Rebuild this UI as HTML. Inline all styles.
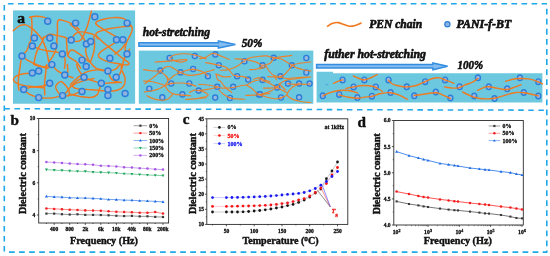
<!DOCTYPE html>
<html><head><meta charset="utf-8"><title>figure</title>
<style>
html,body{margin:0;padding:0;background:#fff;}
body{width:550px;height:256px;overflow:hidden;}
svg{display:block;font-family:"Liberation Serif",serif;filter:blur(0.35px);}
</style></head><body>
<svg width="550" height="256" viewBox="0 0 550 256">
<rect width="550" height="256" fill="#fff"/>
<rect x="13.0" y="10.4" width="122.1" height="93.35" fill="#6cc8de"/>
<rect x="138.8" y="50.6" width="174.5" height="53.15" fill="#6cc8de"/>
<path d="M316.6 71.7H333V73.3H542.4V102.4H316.6Z" fill="#6cc8de"/>
<g transform="translate(0.4 0.4)">
<path d="M12.8 30.3C14.1 29.3 17.1 26.3 19.5 25.2C21.9 24.1 23.1 24.0 25.3 24.5C27.5 25.0 28.8 26.1 31.0 27.7C33.2 29.3 34.6 30.6 36.7 32.8C38.8 35.0 40.1 36.2 41.8 39.2C43.5 42.2 44.5 45.4 45.6 48.7C46.7 52.0 47.0 54.0 47.5 56.4C48.0 58.8 48.1 60.5 48.2 61.5" fill="none" stroke="#f0781f" stroke-width="1.45" stroke-linecap="round"/>
<path d="M29.1 16.9C30.3 16.7 32.8 15.9 35.5 15.9C38.2 15.9 40.7 16.1 43.1 16.7C45.5 17.3 47.2 18.4 48.2 18.8" fill="none" stroke="#f0781f" stroke-width="1.45" stroke-linecap="round"/>
<path d="M31.1 16.6C31.2 18.6 31.7 22.7 31.6 27.1C31.5 31.5 30.9 36.9 30.4 39.8C29.9 42.7 29.8 40.5 29.1 42.4C28.4 44.3 27.8 47.6 26.5 50.0C25.2 52.4 23.1 53.3 22.0 55.0C20.9 56.7 21.3 56.5 20.8 58.9C20.3 61.3 19.9 65.0 19.5 67.8C19.1 70.6 18.9 70.6 18.6 73.4C18.3 76.2 17.8 79.7 17.8 82.8C17.8 85.9 18.4 88.5 18.6 89.8" fill="none" stroke="#f0781f" stroke-width="1.45" stroke-linecap="round"/>
<path d="M78.7 29.0C77.5 28.0 75.1 25.5 72.4 23.9C69.7 22.3 67.5 21.4 64.7 20.7C61.9 20.0 59.1 18.2 57.7 20.1C56.3 22.0 57.3 27.2 57.1 30.9C56.9 34.6 56.6 37.6 56.5 39.8C56.4 42.0 56.7 40.5 56.5 42.4C56.3 44.3 56.1 47.3 55.2 50.0C54.3 52.7 53.2 54.3 52.0 56.4C50.8 58.5 49.4 60.0 48.8 60.8" fill="none" stroke="#f0781f" stroke-width="1.45" stroke-linecap="round"/>
<path d="M41.8 39.2C43.0 38.2 45.8 35.0 48.2 34.1C50.6 33.2 51.6 34.2 54.5 34.7C57.4 35.2 60.6 35.9 63.5 36.6C66.4 37.3 67.6 39.1 69.8 38.5C72.0 37.9 73.0 34.8 74.9 33.5C76.8 32.2 77.3 31.6 80.0 31.5C82.7 31.4 86.2 32.1 89.1 32.8C92.0 33.5 93.1 33.8 95.5 35.4C97.9 37.0 99.1 38.8 101.8 41.1C104.5 43.4 106.6 45.1 109.5 47.5C112.4 49.9 114.4 51.6 117.1 53.8C119.8 56.0 121.3 57.2 123.5 58.9C125.7 60.6 128.0 61.6 128.5 62.7C129.0 63.8 127.9 64.5 126.0 64.6C124.1 64.7 121.8 64.0 118.4 63.4C115.0 62.8 111.6 62.5 108.2 61.5C104.8 60.5 102.4 59.5 100.5 58.3C98.6 57.1 98.0 56.4 98.0 55.1C98.0 53.8 98.6 53.0 100.5 51.3C102.4 49.6 105.5 47.9 108.2 46.2C110.9 44.5 113.3 43.1 114.5 42.4" fill="none" stroke="#f0781f" stroke-width="1.45" stroke-linecap="round"/>
<path d="M91.0 10.8C90.6 12.2 90.0 15.1 89.1 18.2C88.2 21.3 87.7 23.7 86.5 27.1C85.3 30.5 83.9 33.6 82.7 36.0C81.5 38.4 81.4 38.8 80.2 39.8C79.0 40.8 78.1 41.1 76.4 41.1C74.7 41.1 72.3 40.0 71.3 39.8" fill="none" stroke="#f0781f" stroke-width="1.45" stroke-linecap="round"/>
<path d="M117.1 37.3C115.7 36.4 112.2 34.4 109.5 32.8C106.8 31.2 105.4 30.4 103.1 29.0C100.8 27.6 98.8 26.5 97.4 25.2C96.0 23.9 94.4 23.2 95.5 22.0C96.6 20.8 99.7 19.7 103.1 18.8C106.5 17.9 109.4 17.3 113.3 17.2C117.2 17.1 121.0 17.3 123.5 18.2C126.0 19.1 125.2 20.6 126.6 22.0C128.0 23.4 130.1 24.2 131.1 25.8C132.1 27.4 132.2 28.1 131.7 30.3C131.2 32.5 129.6 35.0 128.5 37.3C127.4 39.6 126.7 40.2 126.0 42.4C125.3 44.6 124.6 46.6 124.7 48.7C124.8 50.8 126.8 51.7 126.6 53.6C126.4 55.5 124.3 56.7 123.5 58.9C122.7 61.1 122.6 63.6 122.2 65.3C121.8 67.0 121.6 67.5 121.5 68.0" fill="none" stroke="#f0781f" stroke-width="1.45" stroke-linecap="round"/>
<path d="M131.1 25.8C129.2 25.9 125.3 26.0 120.9 26.5C116.5 27.0 112.3 27.6 108.2 28.4C104.1 29.2 101.7 29.9 99.3 30.9C96.9 31.9 95.9 32.1 95.5 33.5C95.1 34.9 97.0 37.5 97.4 38.5" fill="none" stroke="#f0781f" stroke-width="1.45" stroke-linecap="round"/>
<path d="M70.0 23.9C71.2 25.0 74.0 27.1 76.4 29.6C78.8 32.1 80.9 34.6 82.7 37.3C84.5 40.0 85.4 40.9 85.9 43.6C86.4 46.3 84.9 48.4 85.3 51.3C85.7 54.2 86.6 56.5 87.8 58.9C89.0 61.3 90.1 62.3 91.6 64.0C93.1 65.7 94.3 66.9 95.5 67.8C96.7 68.7 95.8 68.2 98.1 68.7C100.4 69.2 105.7 70.2 107.5 70.6" fill="none" stroke="#f0781f" stroke-width="1.45" stroke-linecap="round"/>
<path d="M93.5 36.0C93.6 37.4 94.2 40.7 94.2 43.6C94.2 46.5 94.1 48.4 93.5 51.3C92.9 54.2 91.8 57.0 91.0 58.9C90.2 60.8 90.7 62.0 89.1 61.5C87.5 61.0 85.1 58.2 82.7 56.4C80.3 54.6 78.4 53.2 76.4 51.9C74.4 50.6 73.4 49.8 72.0 49.6C70.6 49.4 70.1 49.8 69.2 50.8C68.3 51.8 67.7 54.3 67.3 55.1" fill="none" stroke="#f0781f" stroke-width="1.45" stroke-linecap="round"/>
<path d="M66.0 38.5C66.1 40.2 66.4 44.3 66.6 47.5C66.8 50.7 66.4 53.0 67.3 55.1C68.2 57.2 69.4 57.1 71.1 58.3C72.8 59.5 74.5 59.7 76.2 61.5C77.9 63.3 79.4 66.6 80.2 67.8" fill="none" stroke="#f0781f" stroke-width="1.45" stroke-linecap="round"/>
<path d="M32.0 45.5C33.4 46.1 36.2 47.7 39.3 48.7C42.4 49.7 44.8 50.0 48.2 50.6C51.6 51.2 54.5 51.3 57.1 51.9C59.7 52.5 60.5 52.3 61.9 53.6C63.3 54.9 64.3 56.2 64.7 58.9C65.1 61.6 64.2 66.1 64.1 67.8" fill="none" stroke="#f0781f" stroke-width="1.45" stroke-linecap="round"/>
<path d="M43.1 36.5C42.9 37.4 42.9 38.8 41.8 41.1C40.7 43.4 38.7 45.8 37.4 48.7C36.1 51.6 35.5 53.5 34.8 56.4C34.1 59.3 33.7 62.6 33.5 64.0" fill="none" stroke="#f0781f" stroke-width="1.45" stroke-linecap="round"/>
<path d="M21.5 55.7C22.4 56.4 24.3 58.2 26.5 59.5C28.7 60.8 30.2 61.5 32.9 62.7C35.6 63.9 37.8 64.9 40.5 65.9C43.2 66.9 44.8 68.0 46.9 67.8C49.0 67.6 49.5 64.3 51.4 64.8C53.3 65.3 54.4 68.4 56.9 70.3C59.4 72.2 61.4 73.3 64.4 74.6C67.4 75.9 71.0 76.8 72.5 77.3" fill="none" stroke="#f0781f" stroke-width="1.45" stroke-linecap="round"/>
<path d="M114.5 53.8C115.7 52.8 119.0 50.6 120.9 48.7C122.8 46.8 124.0 44.6 124.7 43.6" fill="none" stroke="#f0781f" stroke-width="1.45" stroke-linecap="round"/>
<path d="M129.2 48.7L126.6 53.6" fill="none" stroke="#f0781f" stroke-width="1.45" stroke-linecap="round"/>
<path d="M31.9 72.6C29.5 72.9 23.0 73.0 19.4 74.2C15.8 75.4 13.4 77.0 13.1 78.8C12.8 80.6 14.8 82.2 17.8 83.5C20.8 84.8 24.3 85.4 28.8 85.9C33.3 86.4 37.4 86.5 41.3 85.9C45.2 85.3 47.9 83.4 49.4 82.8" fill="none" stroke="#f0781f" stroke-width="1.45" stroke-linecap="round"/>
<path d="M23.3 89.0C24.3 89.9 25.9 92.2 28.8 93.7C31.7 95.2 34.3 96.4 38.4 97.1C42.5 97.8 46.1 97.9 50.6 97.6C55.1 97.3 59.0 95.7 62.3 95.3C65.6 94.9 66.6 96.2 67.8 95.3C69.0 94.4 69.2 92.7 68.6 90.6C68.0 88.5 66.3 86.1 64.7 84.3C63.1 82.5 61.8 80.9 60.0 81.2C58.2 81.5 55.9 84.1 55.3 85.9C54.7 87.7 55.6 88.8 56.9 90.6C58.2 92.4 59.9 95.9 62.3 95.3C64.7 94.7 66.9 90.1 69.4 87.4C71.9 84.7 73.6 82.8 75.6 81.2C77.6 79.6 78.1 79.1 80.0 78.8C81.9 78.5 83.1 79.7 85.6 79.6C88.1 79.5 91.9 78.4 93.4 78.1" fill="none" stroke="#f0781f" stroke-width="1.45" stroke-linecap="round"/>
<path d="M23.3 89.0C24.9 88.6 28.2 87.0 31.9 86.7C35.6 86.4 40.7 87.3 42.8 87.4" fill="none" stroke="#f0781f" stroke-width="1.45" stroke-linecap="round"/>
<path d="M46.3 64.0C46.1 65.8 45.6 69.5 45.2 73.4C44.8 77.3 44.3 80.3 44.1 84.3C43.9 88.3 44.3 92.6 44.4 94.5" fill="none" stroke="#f0781f" stroke-width="1.45" stroke-linecap="round"/>
<path d="M33.5 64.0C35.0 64.4 37.9 66.1 41.3 66.3C44.7 66.5 49.5 65.1 51.4 64.8" fill="none" stroke="#f0781f" stroke-width="1.45" stroke-linecap="round"/>
<path d="M67.0 64.0L67.5 71.8" fill="none" stroke="#f0781f" stroke-width="1.45" stroke-linecap="round"/>
<path d="M67.8 95.3C69.0 95.0 71.9 94.5 74.1 93.7C76.3 92.9 78.5 91.8 79.5 91.3" fill="none" stroke="#f0781f" stroke-width="1.45" stroke-linecap="round"/>
<path d="M76.2 64.0C76.5 64.9 76.4 66.3 77.8 68.7C79.2 71.1 81.4 74.7 83.8 76.8C86.2 78.9 87.1 78.5 90.3 79.6C93.5 80.7 97.0 82.3 100.9 82.8C104.8 83.3 106.8 82.6 110.6 82.4C114.4 82.2 118.9 82.1 120.8 82.0" fill="none" stroke="#f0781f" stroke-width="1.45" stroke-linecap="round"/>
<path d="M70.0 84.3C71.2 83.1 73.3 80.5 76.3 78.1C79.3 75.7 81.7 73.4 85.6 71.8C89.5 70.2 92.4 69.7 96.6 69.5C100.8 69.3 103.9 70.8 107.5 70.6C111.1 70.4 112.9 70.0 115.3 68.7C117.7 67.4 119.0 63.7 120.0 64.0C121.0 64.3 121.1 68.2 120.8 70.3C120.5 72.4 118.9 74.0 118.4 74.9" fill="none" stroke="#f0781f" stroke-width="1.45" stroke-linecap="round"/>
<path d="M107.5 70.6C108.1 72.0 109.1 76.1 110.6 78.1C112.1 80.1 113.4 80.5 115.3 81.2C117.2 81.9 119.8 81.8 120.8 82.0" fill="none" stroke="#f0781f" stroke-width="1.45" stroke-linecap="round"/>
<path d="M121.6 70.3C122.2 71.8 124.4 75.1 124.7 78.1C125.0 81.1 124.6 83.7 123.1 85.9C121.6 88.1 119.9 88.8 116.9 89.8C113.9 90.8 111.1 90.9 107.5 90.9C103.9 90.9 102.3 90.2 98.1 89.8C93.9 89.4 89.7 89.3 85.6 89.0C81.5 88.7 78.8 88.8 76.3 88.2C73.8 87.6 72.3 86.9 72.3 85.9C72.3 84.9 73.8 84.0 76.3 82.8C78.8 81.6 83.8 80.2 85.6 79.6" fill="none" stroke="#f0781f" stroke-width="1.45" stroke-linecap="round"/>
<path d="M100.9 82.8C100.5 84.0 99.7 86.8 98.9 89.0C98.1 91.2 98.2 93.0 96.6 94.5C95.0 96.0 93.6 96.8 90.3 97.1C87.0 97.4 83.3 96.6 79.4 96.0C75.5 95.4 71.8 94.1 70.0 93.7" fill="none" stroke="#f0781f" stroke-width="1.45" stroke-linecap="round"/>
<circle cx="47.3" cy="20.8" r="3.0" fill="#8eb3e3" stroke="#2c7fd9" stroke-width="1.45"/>
<circle cx="75.2" cy="22.7" r="3.0" fill="#8eb3e3" stroke="#2c7fd9" stroke-width="1.45"/>
<circle cx="94.4" cy="16.4" r="3.0" fill="#8eb3e3" stroke="#2c7fd9" stroke-width="1.45"/>
<circle cx="126.7" cy="22.7" r="3.0" fill="#8eb3e3" stroke="#2c7fd9" stroke-width="1.45"/>
<circle cx="34.0" cy="37.5" r="3.0" fill="#8eb3e3" stroke="#2c7fd9" stroke-width="1.45"/>
<circle cx="49.4" cy="37.5" r="3.0" fill="#8eb3e3" stroke="#2c7fd9" stroke-width="1.45"/>
<circle cx="70.8" cy="39.5" r="3.0" fill="#8eb3e3" stroke="#2c7fd9" stroke-width="1.45"/>
<circle cx="86.0" cy="43.5" r="3.0" fill="#8eb3e3" stroke="#2c7fd9" stroke-width="1.45"/>
<circle cx="90.3" cy="41.0" r="3.0" fill="#8eb3e3" stroke="#2c7fd9" stroke-width="1.45"/>
<circle cx="116.1" cy="39.4" r="3.0" fill="#8eb3e3" stroke="#2c7fd9" stroke-width="1.45"/>
<circle cx="122.5" cy="39.4" r="3.0" fill="#8eb3e3" stroke="#2c7fd9" stroke-width="1.45"/>
<circle cx="32.0" cy="45.5" r="3.0" fill="#8eb3e3" stroke="#2c7fd9" stroke-width="1.45"/>
<circle cx="53.5" cy="45.5" r="3.0" fill="#8eb3e3" stroke="#2c7fd9" stroke-width="1.45"/>
<circle cx="21.6" cy="55.6" r="3.0" fill="#8eb3e3" stroke="#2c7fd9" stroke-width="1.45"/>
<circle cx="61.9" cy="53.5" r="3.0" fill="#8eb3e3" stroke="#2c7fd9" stroke-width="1.45"/>
<circle cx="126.6" cy="53.5" r="3.0" fill="#8eb3e3" stroke="#2c7fd9" stroke-width="1.45"/>
<circle cx="109.5" cy="57.9" r="3.0" fill="#8eb3e3" stroke="#2c7fd9" stroke-width="1.45"/>
<circle cx="81.6" cy="59.7" r="3.0" fill="#8eb3e3" stroke="#2c7fd9" stroke-width="1.45"/>
<circle cx="51.5" cy="64.2" r="3.0" fill="#8eb3e3" stroke="#2c7fd9" stroke-width="1.45"/>
<circle cx="85.8" cy="66.0" r="3.0" fill="#8eb3e3" stroke="#2c7fd9" stroke-width="1.45"/>
<circle cx="31.9" cy="72.5" r="3.0" fill="#8eb3e3" stroke="#2c7fd9" stroke-width="1.45"/>
<circle cx="38.3" cy="70.6" r="3.0" fill="#8eb3e3" stroke="#2c7fd9" stroke-width="1.45"/>
<circle cx="64.4" cy="74.5" r="3.0" fill="#8eb3e3" stroke="#2c7fd9" stroke-width="1.45"/>
<circle cx="107.5" cy="70.6" r="3.0" fill="#8eb3e3" stroke="#2c7fd9" stroke-width="1.45"/>
<circle cx="83.6" cy="76.8" r="3.0" fill="#8eb3e3" stroke="#2c7fd9" stroke-width="1.45"/>
<circle cx="115.8" cy="76.8" r="3.0" fill="#8eb3e3" stroke="#2c7fd9" stroke-width="1.45"/>
<circle cx="49.3" cy="82.9" r="3.0" fill="#8eb3e3" stroke="#2c7fd9" stroke-width="1.45"/>
<circle cx="100.9" cy="82.8" r="3.0" fill="#8eb3e3" stroke="#2c7fd9" stroke-width="1.45"/>
<circle cx="23.3" cy="89.0" r="3.0" fill="#8eb3e3" stroke="#2c7fd9" stroke-width="1.45"/>
<circle cx="81.6" cy="91.1" r="3.0" fill="#8eb3e3" stroke="#2c7fd9" stroke-width="1.45"/>
<circle cx="107.5" cy="89.0" r="3.0" fill="#8eb3e3" stroke="#2c7fd9" stroke-width="1.45"/>
<circle cx="107.5" cy="95.1" r="3.0" fill="#8eb3e3" stroke="#2c7fd9" stroke-width="1.45"/>
<circle cx="124.7" cy="93.0" r="3.0" fill="#8eb3e3" stroke="#2c7fd9" stroke-width="1.45"/>
<circle cx="62.2" cy="95.2" r="3.0" fill="#8eb3e3" stroke="#2c7fd9" stroke-width="1.45"/>
<circle cx="38.3" cy="97.2" r="3.0" fill="#8eb3e3" stroke="#2c7fd9" stroke-width="1.45"/>
</g>
<ellipse cx="169.6" cy="58.0" rx="2.5" ry="2.6" fill="#9bb8e4" stroke="#2c7fd9" stroke-width="1.4"/>
<ellipse cx="194.8" cy="56.0" rx="2.5" ry="2.6" fill="#9bb8e4" stroke="#2c7fd9" stroke-width="1.4"/>
<ellipse cx="215.3" cy="54.4" rx="2.5" ry="2.6" fill="#9bb8e4" stroke="#2c7fd9" stroke-width="1.4"/>
<ellipse cx="244.5" cy="61.3" rx="2.5" ry="2.6" fill="#9bb8e4" stroke="#2c7fd9" stroke-width="1.4"/>
<ellipse cx="218.8" cy="65.2" rx="2.5" ry="2.6" fill="#9bb8e4" stroke="#2c7fd9" stroke-width="1.4"/>
<ellipse cx="262.5" cy="65.4" rx="2.5" ry="2.6" fill="#9bb8e4" stroke="#2c7fd9" stroke-width="1.4"/>
<ellipse cx="160.3" cy="70.6" rx="2.5" ry="2.6" fill="#9bb8e4" stroke="#2c7fd9" stroke-width="1.4"/>
<ellipse cx="180.5" cy="72.4" rx="2.5" ry="2.6" fill="#9bb8e4" stroke="#2c7fd9" stroke-width="1.4"/>
<ellipse cx="193.1" cy="69.0" rx="2.5" ry="2.6" fill="#9bb8e4" stroke="#2c7fd9" stroke-width="1.4"/>
<ellipse cx="207.9" cy="76.2" rx="2.5" ry="2.6" fill="#9bb8e4" stroke="#2c7fd9" stroke-width="1.4"/>
<ellipse cx="237.1" cy="76.2" rx="2.5" ry="2.6" fill="#9bb8e4" stroke="#2c7fd9" stroke-width="1.4"/>
<ellipse cx="248.2" cy="79.6" rx="2.5" ry="2.6" fill="#9bb8e4" stroke="#2c7fd9" stroke-width="1.4"/>
<ellipse cx="262.5" cy="79.9" rx="2.5" ry="2.6" fill="#9bb8e4" stroke="#2c7fd9" stroke-width="1.4"/>
<ellipse cx="171.2" cy="83.5" rx="2.5" ry="2.6" fill="#9bb8e4" stroke="#2c7fd9" stroke-width="1.4"/>
<ellipse cx="189.3" cy="83.5" rx="2.5" ry="2.6" fill="#9bb8e4" stroke="#2c7fd9" stroke-width="1.4"/>
<ellipse cx="149.3" cy="88.7" rx="2.5" ry="2.6" fill="#9bb8e4" stroke="#2c7fd9" stroke-width="1.4"/>
<ellipse cx="217.2" cy="86.8" rx="2.5" ry="2.6" fill="#9bb8e4" stroke="#2c7fd9" stroke-width="1.4"/>
<ellipse cx="233.2" cy="86.8" rx="2.5" ry="2.6" fill="#9bb8e4" stroke="#2c7fd9" stroke-width="1.4"/>
<ellipse cx="198.7" cy="90.6" rx="2.5" ry="2.6" fill="#9bb8e4" stroke="#2c7fd9" stroke-width="1.4"/>
<ellipse cx="182.4" cy="94.4" rx="2.5" ry="2.6" fill="#9bb8e4" stroke="#2c7fd9" stroke-width="1.4"/>
<ellipse cx="162.3" cy="97.4" rx="2.5" ry="2.6" fill="#9bb8e4" stroke="#2c7fd9" stroke-width="1.4"/>
<ellipse cx="215.2" cy="97.6" rx="2.5" ry="2.6" fill="#9bb8e4" stroke="#2c7fd9" stroke-width="1.4"/>
<ellipse cx="230.0" cy="98.0" rx="2.5" ry="2.6" fill="#9bb8e4" stroke="#2c7fd9" stroke-width="1.4"/>
<ellipse cx="258.9" cy="94.4" rx="2.5" ry="2.6" fill="#9bb8e4" stroke="#2c7fd9" stroke-width="1.4"/>
<ellipse cx="273.7" cy="57.8" rx="2.5" ry="2.6" fill="#9bb8e4" stroke="#2c7fd9" stroke-width="1.4"/>
<ellipse cx="306.3" cy="58.0" rx="2.5" ry="2.6" fill="#9bb8e4" stroke="#2c7fd9" stroke-width="1.4"/>
<ellipse cx="291.8" cy="65.3" rx="2.5" ry="2.6" fill="#9bb8e4" stroke="#2c7fd9" stroke-width="1.4"/>
<ellipse cx="306.3" cy="72.5" rx="2.5" ry="2.6" fill="#9bb8e4" stroke="#2c7fd9" stroke-width="1.4"/>
<ellipse cx="280.4" cy="76.3" rx="2.5" ry="2.6" fill="#9bb8e4" stroke="#2c7fd9" stroke-width="1.4"/>
<ellipse cx="288.0" cy="83.6" rx="2.5" ry="2.6" fill="#9bb8e4" stroke="#2c7fd9" stroke-width="1.4"/>
<ellipse cx="299.1" cy="83.6" rx="2.5" ry="2.6" fill="#9bb8e4" stroke="#2c7fd9" stroke-width="1.4"/>
<ellipse cx="309.6" cy="83.6" rx="2.5" ry="2.6" fill="#9bb8e4" stroke="#2c7fd9" stroke-width="1.4"/>
<ellipse cx="277.2" cy="87.4" rx="2.5" ry="2.6" fill="#9bb8e4" stroke="#2c7fd9" stroke-width="1.4"/>
<ellipse cx="260.0" cy="94.4" rx="2.5" ry="2.6" fill="#9bb8e4" stroke="#2c7fd9" stroke-width="1.4"/>
<ellipse cx="281.0" cy="97.5" rx="2.5" ry="2.6" fill="#9bb8e4" stroke="#2c7fd9" stroke-width="1.4"/>
<ellipse cx="299.1" cy="97.3" rx="2.5" ry="2.6" fill="#9bb8e4" stroke="#2c7fd9" stroke-width="1.4"/>
<path d="M169.7 57.9C170.6 57.3 171.4 55.8 174.2 55.0C177.0 54.2 180.5 53.7 184.4 53.7C188.3 53.7 190.7 54.0 194.8 55.0C198.9 56.0 203.9 58.1 206.0 58.8" fill="none" stroke="#e9812d" stroke-width="1.15" stroke-linecap="round"/>
<path d="M155.1 62.0C157.0 61.9 160.9 61.8 165.3 61.4C169.7 61.0 174.0 60.5 178.0 60.1C182.0 59.7 184.9 59.3 186.3 59.5C187.7 59.7 186.9 60.4 185.6 60.9C184.3 61.4 182.0 62.3 179.3 62.0C176.6 61.7 173.1 60.0 171.6 59.5" fill="none" stroke="#e9812d" stroke-width="1.15" stroke-linecap="round"/>
<path d="M143.6 69.6C145.1 69.8 148.1 70.5 151.3 70.7C154.5 70.9 157.5 71.4 160.2 70.7C162.9 70.0 163.4 67.8 165.3 67.1C167.2 66.4 168.5 66.3 170.4 66.8C172.3 67.3 173.6 68.6 175.5 69.6C177.4 70.6 178.3 72.1 180.5 72.2C182.7 72.3 184.5 70.8 186.9 70.3C189.3 69.8 190.4 69.2 193.3 69.4C196.2 69.6 199.4 70.2 202.2 71.5C205.0 72.8 206.8 75.1 207.9 76.0" fill="none" stroke="#e9812d" stroke-width="1.15" stroke-linecap="round"/>
<path d="M160.2 71.5C159.2 72.4 157.0 74.4 155.1 76.0C153.2 77.6 151.9 78.4 150.0 79.8C148.1 81.2 145.9 82.9 144.9 83.6" fill="none" stroke="#e9812d" stroke-width="1.15" stroke-linecap="round"/>
<path d="M160.6 71.5C161.5 72.2 163.7 73.8 165.3 75.4C166.9 77.0 168.4 79.0 169.1 79.8" fill="none" stroke="#e9812d" stroke-width="1.15" stroke-linecap="round"/>
<path d="M169.1 79.8C170.1 79.0 172.1 76.7 174.2 75.4C176.3 74.1 178.9 73.3 180.0 72.8" fill="none" stroke="#e9812d" stroke-width="1.15" stroke-linecap="round"/>
<path d="M181.0 72.8C182.6 73.3 186.0 75.2 189.5 75.4C193.0 75.6 196.2 74.8 199.6 74.1C203.0 73.4 204.9 72.4 207.6 71.5C210.3 70.6 212.8 70.0 214.0 69.6" fill="none" stroke="#e9812d" stroke-width="1.15" stroke-linecap="round"/>
<path d="M200.0 58.8C201.2 58.4 204.2 57.9 206.4 56.9C208.6 55.9 209.8 54.3 211.5 53.7C213.2 53.1 213.4 53.2 215.3 53.7C217.2 54.2 218.9 55.2 221.6 56.3C224.3 57.4 227.8 58.9 229.3 59.5" fill="none" stroke="#e9812d" stroke-width="1.15" stroke-linecap="round"/>
<path d="M205.7 62.6C207.0 62.8 210.2 63.4 212.7 63.9C215.2 64.4 216.7 64.6 219.1 65.2C221.5 65.8 223.6 66.1 225.5 67.1C227.4 68.1 227.9 68.9 229.3 70.3C230.7 71.7 231.6 73.6 233.1 74.7C234.6 75.8 236.4 75.8 237.2 76.0" fill="none" stroke="#e9812d" stroke-width="1.15" stroke-linecap="round"/>
<path d="M220.4 70.3C221.8 70.2 225.1 70.2 228.0 69.6C230.9 69.0 232.9 68.4 235.6 67.1C238.3 65.8 240.3 63.7 242.0 62.6C243.7 61.5 244.0 61.6 244.5 61.4" fill="none" stroke="#e9812d" stroke-width="1.15" stroke-linecap="round"/>
<path d="M235.0 58.8C236.8 58.9 241.5 59.1 244.5 59.5C247.5 59.9 248.5 60.1 250.9 60.7C253.3 61.3 255.1 61.7 257.3 62.6C259.5 63.5 260.1 65.1 262.6 65.2C265.1 65.3 268.1 64.6 270.2 63.3C272.3 62.0 272.8 59.2 273.4 58.2" fill="none" stroke="#e9812d" stroke-width="1.15" stroke-linecap="round"/>
<path d="M245.2 60.1C246.3 59.6 248.1 58.2 250.9 57.5C253.7 56.8 256.9 56.6 259.8 56.3C262.7 56.0 263.8 55.7 266.4 55.9C269.0 56.1 270.7 57.3 273.4 57.5C276.1 57.7 276.9 57.3 280.4 56.9C283.9 56.5 289.6 55.7 291.8 55.4" fill="none" stroke="#e9812d" stroke-width="1.15" stroke-linecap="round"/>
<path d="M249.6 69.6C251.1 69.5 254.8 69.7 257.3 69.0C259.8 68.3 261.6 66.4 262.6 65.8" fill="none" stroke="#e9812d" stroke-width="1.15" stroke-linecap="round"/>
<path d="M216.5 74.1C217.7 74.6 220.2 76.1 222.9 76.6C225.6 77.1 229.1 76.6 230.5 76.6" fill="none" stroke="#e9812d" stroke-width="1.15" stroke-linecap="round"/>
<path d="M215.9 74.1C216.3 75.2 216.9 78.5 217.8 79.8C218.7 81.1 218.9 79.6 220.4 81.1C221.9 82.6 223.3 85.3 225.5 87.5C227.7 89.7 230.6 91.5 231.8 92.5" fill="none" stroke="#e9812d" stroke-width="1.15" stroke-linecap="round"/>
<path d="M237.2 76.6C238.4 76.6 241.2 76.2 243.3 76.6C245.4 77.0 247.4 78.1 248.4 78.5" fill="none" stroke="#e9812d" stroke-width="1.15" stroke-linecap="round"/>
<path d="M253.5 79.2C254.4 79.0 256.8 78.0 258.5 77.9C260.2 77.8 261.7 78.4 262.4 78.5" fill="none" stroke="#e9812d" stroke-width="1.15" stroke-linecap="round"/>
<path d="M273.4 58.2C274.7 58.3 277.9 58.1 280.4 58.8C282.9 59.5 284.5 60.8 286.7 62.0C288.9 63.2 289.6 64.0 291.8 65.2C294.0 66.4 295.5 67.4 298.2 68.4C300.9 69.4 303.4 69.8 305.8 70.3C308.2 70.8 309.9 70.8 310.9 70.9" fill="none" stroke="#e9812d" stroke-width="1.15" stroke-linecap="round"/>
<path d="M291.8 65.2C293.3 64.8 295.9 63.9 299.5 63.3C303.1 62.7 308.7 62.2 310.9 62.0" fill="none" stroke="#e9812d" stroke-width="1.15" stroke-linecap="round"/>
<path d="M291.8 65.8C291.1 66.8 289.4 69.2 288.0 70.9C286.6 72.6 285.6 73.7 284.2 74.7C282.8 75.7 281.1 76.0 280.4 76.3" fill="none" stroke="#e9812d" stroke-width="1.15" stroke-linecap="round"/>
<path d="M266.4 66.5C267.0 67.5 268.1 69.8 269.5 71.5C270.9 73.2 271.9 74.4 274.0 75.4C276.1 76.4 278.0 76.0 280.4 76.6C282.8 77.2 283.3 78.3 286.7 78.5C290.1 78.7 293.6 77.8 298.2 77.5C302.8 77.2 308.5 77.1 310.9 77.0" fill="none" stroke="#e9812d" stroke-width="1.15" stroke-linecap="round"/>
<path d="M274.0 75.4L276.5 79.8" fill="none" stroke="#e9812d" stroke-width="1.15" stroke-linecap="round"/>
<path d="M260.0 69.0L266.4 66.5" fill="none" stroke="#e9812d" stroke-width="1.15" stroke-linecap="round"/>
<path d="M143.6 81.1C145.3 81.2 149.1 81.1 152.5 81.7C155.9 82.3 159.1 83.6 161.5 84.3C163.9 85.0 164.6 85.3 165.3 85.5" fill="none" stroke="#e9812d" stroke-width="1.15" stroke-linecap="round"/>
<path d="M144.3 91.9C145.3 91.8 146.9 91.8 149.4 91.3C151.9 90.8 154.6 90.5 157.6 89.4C160.6 88.3 162.7 86.6 165.3 85.5C167.9 84.4 168.7 83.9 171.4 83.4C174.1 82.9 175.9 82.9 179.3 83.0C182.7 83.1 186.4 83.3 189.5 83.9C192.6 84.5 194.6 85.8 195.8 86.2" fill="none" stroke="#e9812d" stroke-width="1.15" stroke-linecap="round"/>
<path d="M166.5 76.0C166.7 77.0 168.0 79.3 167.8 81.1C167.6 82.9 165.3 83.8 165.3 85.5C165.3 87.2 166.4 88.4 167.8 90.0C169.2 91.6 170.1 92.8 172.9 93.8C175.7 94.8 179.1 94.7 182.5 95.1C185.9 95.5 189.1 95.6 190.7 95.7" fill="none" stroke="#e9812d" stroke-width="1.15" stroke-linecap="round"/>
<path d="M198.4 84.3C200.4 84.5 205.3 84.7 208.9 85.2C212.5 85.7 214.5 86.2 217.2 86.8C219.9 87.4 219.8 88.0 222.9 88.1C226.0 88.2 229.7 88.0 233.3 87.5C236.9 87.0 239.4 86.0 242.0 85.5C244.6 85.0 245.4 85.5 247.1 84.9C248.8 84.3 249.2 83.2 250.9 82.4C252.6 81.6 253.8 81.0 256.0 80.5C258.2 80.0 259.9 79.6 262.6 79.8C265.3 80.0 268.6 81.3 270.0 81.7" fill="none" stroke="#e9812d" stroke-width="1.15" stroke-linecap="round"/>
<path d="M189.5 92.5C190.4 92.0 192.8 90.4 194.5 90.0C196.2 89.6 196.1 90.7 198.6 90.6C201.1 90.5 204.1 90.0 207.6 89.4C211.1 88.8 215.4 87.9 217.2 87.5" fill="none" stroke="#e9812d" stroke-width="1.15" stroke-linecap="round"/>
<path d="M146.8 95.7C148.1 96.3 150.9 98.0 153.8 98.9C156.7 99.8 159.6 100.2 162.3 100.2C165.0 100.2 166.0 99.8 167.8 98.9C169.6 98.0 170.6 96.7 171.6 95.7C172.6 94.7 172.7 94.2 172.9 93.8" fill="none" stroke="#e9812d" stroke-width="1.15" stroke-linecap="round"/>
<path d="M185.6 99.5C187.3 99.4 190.6 99.3 194.5 98.9C198.4 98.5 203.8 97.8 206.0 97.6" fill="none" stroke="#e9812d" stroke-width="1.15" stroke-linecap="round"/>
<path d="M247.1 85.5C248.1 86.1 250.5 87.4 252.2 88.7C253.9 90.0 254.7 91.4 256.0 92.5C257.3 93.6 256.9 93.6 258.8 94.5C260.7 95.4 263.1 96.2 266.2 97.0C269.3 97.8 272.5 98.5 275.3 98.7C278.1 98.9 279.9 98.1 281.0 97.9" fill="none" stroke="#e9812d" stroke-width="1.15" stroke-linecap="round"/>
<path d="M245.8 95.3C247.3 95.3 251.0 95.2 253.5 95.1C256.0 95.0 255.7 95.2 258.8 94.8C261.9 94.4 267.9 93.5 270.0 93.2" fill="none" stroke="#e9812d" stroke-width="1.15" stroke-linecap="round"/>
<path d="M200.0 90.6C201.0 91.0 203.5 91.6 205.1 92.5C206.7 93.4 208.3 94.2 208.3 95.1C208.3 96.0 206.7 96.5 205.1 97.0C203.5 97.5 201.0 97.5 200.0 97.6" fill="none" stroke="#e9812d" stroke-width="1.15" stroke-linecap="round"/>
<path d="M219.1 90.0C219.8 90.7 220.8 92.3 222.9 93.8C225.0 95.3 227.2 96.9 229.9 97.9C232.6 98.9 234.1 98.7 236.9 98.9C239.7 99.1 243.1 99.1 244.5 99.2" fill="none" stroke="#e9812d" stroke-width="1.15" stroke-linecap="round"/>
<path d="M263.6 88.1C264.9 88.1 267.6 88.2 270.2 88.1C272.8 88.0 275.9 87.9 277.2 87.8" fill="none" stroke="#e9812d" stroke-width="1.15" stroke-linecap="round"/>
<path d="M267.6 76.6L280.4 77.3" fill="none" stroke="#e9812d" stroke-width="1.15" stroke-linecap="round"/>
<path d="M262.5 80.5C263.7 81.0 266.1 81.7 268.9 83.0C271.7 84.3 274.5 86.1 277.2 87.5C279.9 88.9 281.0 89.5 282.9 90.6C284.8 91.7 286.5 92.7 287.4 93.2" fill="none" stroke="#e9812d" stroke-width="1.15" stroke-linecap="round"/>
<path d="M307.1 77.3C305.4 77.5 301.8 78.0 298.2 78.5C294.6 79.0 291.2 79.1 288.0 79.8C284.8 80.5 283.7 81.1 281.6 82.4C279.5 83.7 279.4 85.1 277.2 86.8C275.0 88.5 273.5 89.8 270.2 91.3C266.9 92.8 261.9 93.9 260.0 94.5" fill="none" stroke="#e9812d" stroke-width="1.15" stroke-linecap="round"/>
<path d="M288.0 83.6C289.0 83.7 291.0 84.2 293.1 84.3C295.2 84.4 297.0 83.9 299.2 83.9C301.4 83.9 302.5 84.3 304.5 84.3C306.5 84.3 308.9 84.0 309.9 83.9" fill="none" stroke="#e9812d" stroke-width="1.15" stroke-linecap="round"/>
<path d="M299.2 84.3C298.0 84.8 295.1 85.5 293.1 86.8C291.1 88.1 289.8 89.7 288.6 91.3C287.4 92.9 287.8 94.0 286.7 95.1C285.6 96.2 284.0 96.5 282.9 97.0C281.8 97.5 281.4 97.7 281.0 97.9" fill="none" stroke="#e9812d" stroke-width="1.15" stroke-linecap="round"/>
<path d="M279.1 83.6L285.5 90.0" fill="none" stroke="#e9812d" stroke-width="1.15" stroke-linecap="round"/>
<path d="M286.7 95.1C287.7 95.8 289.1 97.7 291.8 98.9C294.5 100.1 297.1 100.8 300.7 101.5C304.3 102.2 309.0 102.3 310.9 102.5" fill="none" stroke="#e9812d" stroke-width="1.15" stroke-linecap="round"/>
<ellipse cx="342.6" cy="79.9" rx="2.5" ry="2.8" fill="#9bb8e4" stroke="#2c7fd9" stroke-width="1.4"/>
<ellipse cx="364.4" cy="79.9" rx="2.5" ry="2.8" fill="#9bb8e4" stroke="#2c7fd9" stroke-width="1.4"/>
<ellipse cx="388.5" cy="79.9" rx="2.5" ry="2.8" fill="#9bb8e4" stroke="#2c7fd9" stroke-width="1.4"/>
<ellipse cx="353.6" cy="86.9" rx="2.5" ry="2.8" fill="#9bb8e4" stroke="#2c7fd9" stroke-width="1.4"/>
<ellipse cx="375.8" cy="86.9" rx="2.5" ry="2.8" fill="#9bb8e4" stroke="#2c7fd9" stroke-width="1.4"/>
<ellipse cx="322.8" cy="95.8" rx="2.5" ry="2.8" fill="#9bb8e4" stroke="#2c7fd9" stroke-width="1.4"/>
<ellipse cx="339.2" cy="94.4" rx="2.5" ry="2.8" fill="#9bb8e4" stroke="#2c7fd9" stroke-width="1.4"/>
<ellipse cx="357.4" cy="97.6" rx="2.5" ry="2.8" fill="#9bb8e4" stroke="#2c7fd9" stroke-width="1.4"/>
<ellipse cx="371.9" cy="96.2" rx="2.5" ry="2.8" fill="#9bb8e4" stroke="#2c7fd9" stroke-width="1.4"/>
<ellipse cx="390.6" cy="92.6" rx="2.5" ry="2.8" fill="#9bb8e4" stroke="#2c7fd9" stroke-width="1.4"/>
<ellipse cx="406.7" cy="86.8" rx="2.5" ry="2.8" fill="#9bb8e4" stroke="#2c7fd9" stroke-width="1.4"/>
<ellipse cx="425.2" cy="81.7" rx="2.5" ry="2.8" fill="#9bb8e4" stroke="#2c7fd9" stroke-width="1.4"/>
<ellipse cx="445.1" cy="79.9" rx="2.5" ry="2.8" fill="#9bb8e4" stroke="#2c7fd9" stroke-width="1.4"/>
<ellipse cx="459.6" cy="86.8" rx="2.5" ry="2.8" fill="#9bb8e4" stroke="#2c7fd9" stroke-width="1.4"/>
<ellipse cx="414.3" cy="95.8" rx="2.5" ry="2.8" fill="#9bb8e4" stroke="#2c7fd9" stroke-width="1.4"/>
<ellipse cx="435.8" cy="92.0" rx="2.5" ry="2.8" fill="#9bb8e4" stroke="#2c7fd9" stroke-width="1.4"/>
<ellipse cx="450.4" cy="98.0" rx="2.5" ry="2.8" fill="#9bb8e4" stroke="#2c7fd9" stroke-width="1.4"/>
<ellipse cx="477.9" cy="77.8" rx="2.5" ry="2.8" fill="#9bb8e4" stroke="#2c7fd9" stroke-width="1.4"/>
<ellipse cx="519.9" cy="77.8" rx="2.5" ry="2.8" fill="#9bb8e4" stroke="#2c7fd9" stroke-width="1.4"/>
<ellipse cx="538.3" cy="81.7" rx="2.5" ry="2.8" fill="#9bb8e4" stroke="#2c7fd9" stroke-width="1.4"/>
<ellipse cx="488.8" cy="86.8" rx="2.5" ry="2.8" fill="#9bb8e4" stroke="#2c7fd9" stroke-width="1.4"/>
<ellipse cx="507.2" cy="88.8" rx="2.5" ry="2.8" fill="#9bb8e4" stroke="#2c7fd9" stroke-width="1.4"/>
<ellipse cx="523.8" cy="92.5" rx="2.5" ry="2.8" fill="#9bb8e4" stroke="#2c7fd9" stroke-width="1.4"/>
<ellipse cx="474.2" cy="96.0" rx="2.5" ry="2.8" fill="#9bb8e4" stroke="#2c7fd9" stroke-width="1.4"/>
<ellipse cx="494.5" cy="98.5" rx="2.5" ry="2.8" fill="#9bb8e4" stroke="#2c7fd9" stroke-width="1.4"/>
<ellipse cx="538.3" cy="96.0" rx="2.5" ry="2.8" fill="#9bb8e4" stroke="#2c7fd9" stroke-width="1.4"/>
<path d="M333.6 83.3C334.6 82.9 337.0 81.7 338.7 81.1C340.4 80.5 342.0 80.1 342.8 79.9" fill="none" stroke="#ee7a22" stroke-width="1.4" stroke-linecap="round"/>
<path d="M353.3 76.0C354.4 76.5 357.0 77.8 359.1 78.5C361.2 79.2 362.1 80.1 364.5 79.9C366.9 79.7 369.1 78.5 371.5 77.5C373.9 76.5 376.2 75.1 377.3 74.5" fill="none" stroke="#ee7a22" stroke-width="1.4" stroke-linecap="round"/>
<path d="M346.0 88.4C347.4 88.1 350.3 87.5 353.6 86.9C356.9 86.3 360.0 85.6 363.5 85.5C367.0 85.4 369.9 85.8 372.2 86.2C374.5 86.6 373.9 86.4 375.8 87.4C377.7 88.4 381.1 90.6 382.4 91.3" fill="none" stroke="#ee7a22" stroke-width="1.4" stroke-linecap="round"/>
<path d="M323.0 95.9C324.3 95.3 327.0 93.7 330.0 92.7C333.0 91.7 335.4 90.9 339.0 90.5C342.6 90.1 345.4 90.0 348.9 90.5C352.4 91.0 355.9 92.5 357.6 93.0" fill="none" stroke="#ee7a22" stroke-width="1.4" stroke-linecap="round"/>
<path d="M339.0 94.9C340.6 95.3 344.0 96.5 347.5 97.1C351.0 97.7 354.0 98.3 357.3 98.3C360.6 98.3 362.1 97.5 364.9 97.1C367.7 96.7 368.9 97.1 371.9 96.4C374.9 95.7 377.4 94.2 380.9 93.5C384.4 92.8 387.0 92.4 390.4 92.7C393.8 93.0 395.5 93.6 398.7 94.9C401.9 96.2 405.8 98.5 407.5 99.3" fill="none" stroke="#ee7a22" stroke-width="1.4" stroke-linecap="round"/>
<path d="M388.5 80.3C389.3 81.0 390.8 83.0 392.5 84.0C394.2 85.0 394.6 84.9 397.3 85.5C400.0 86.1 403.1 86.9 406.7 86.9C410.3 86.9 412.7 86.5 416.2 85.5C419.7 84.5 421.6 83.2 424.9 81.8C428.2 80.4 430.8 78.9 433.6 78.2C436.4 77.5 437.3 77.6 439.5 77.9C441.7 78.2 442.2 78.9 445.0 79.9C447.8 80.9 452.3 82.7 454.0 83.3" fill="none" stroke="#ee7a22" stroke-width="1.4" stroke-linecap="round"/>
<path d="M444.5 86.9C446.0 87.1 449.6 88.0 452.5 88.1C455.4 88.2 457.0 88.2 459.5 87.6C462.0 87.0 463.3 85.7 465.6 84.7C467.9 83.7 469.5 83.7 471.8 82.5C474.1 81.3 476.7 79.3 477.9 78.5" fill="none" stroke="#ee7a22" stroke-width="1.4" stroke-linecap="round"/>
<path d="M414.0 95.6C415.8 95.3 419.4 94.8 423.5 94.2C427.6 93.6 432.2 92.6 435.8 92.7C439.4 92.8 439.6 93.8 442.4 94.9C445.2 96.0 448.9 97.8 450.4 98.5" fill="none" stroke="#ee7a22" stroke-width="1.4" stroke-linecap="round"/>
<path d="M462.7 92.0C464.1 92.7 467.9 94.6 470.0 95.6C472.1 96.6 471.4 96.5 474.0 97.1C476.6 97.7 479.6 98.6 483.5 98.8C487.4 99.0 490.5 98.9 494.4 98.3C498.3 97.7 500.1 96.7 503.8 95.6C507.5 94.5 510.2 93.3 514.0 92.7C517.8 92.1 520.4 92.4 523.7 92.7C527.0 93.0 528.7 93.6 531.5 94.2C534.3 94.8 537.0 95.6 538.3 95.9" fill="none" stroke="#ee7a22" stroke-width="1.4" stroke-linecap="round"/>
<path d="M505.6 81.4C506.9 81.0 509.8 79.9 512.5 79.3C515.2 78.7 516.8 78.6 519.8 78.5C522.8 78.4 525.0 78.3 528.5 78.9C532.0 79.5 535.7 80.8 538.3 81.8C540.9 82.8 541.6 83.6 542.4 84.0" fill="none" stroke="#ee7a22" stroke-width="1.4" stroke-linecap="round"/>
<path d="M477.6 90.5C478.7 89.9 481.4 88.3 483.5 87.6C485.6 86.9 486.0 86.5 488.8 86.7C491.6 86.9 494.5 87.9 498.0 88.4C501.5 88.9 503.7 89.8 507.0 89.5C510.3 89.2 512.8 87.8 515.5 86.9C518.2 86.0 520.0 85.1 521.0 84.7" fill="none" stroke="#ee7a22" stroke-width="1.4" stroke-linecap="round"/>
<path d="M325.6 84.7H328.2" stroke="#3b8fd8" stroke-width="0.7"/>
<path d="M138.9 42.7H218.4V41.0L235.4 44.5L218.4 48.0V46.2H138.9Z" fill="#86bdf0" stroke="#338de0" stroke-width="1.5" stroke-linejoin="miter"/>
<path d="M316.6 64.5H432.9V62.9L447.6 66.3L432.9 69.7V68.1H316.6Z" fill="#86bdf0" stroke="#338de0" stroke-width="1.5" stroke-linejoin="miter"/>
<path d="M327.5 26.2C328.4 25.7 330.0 24.3 332.0 23.6C334.0 22.9 335.7 22.4 338.0 22.6C340.3 22.8 341.7 23.9 344.0 24.6C346.3 25.3 347.7 26.2 350.0 26.3C352.3 26.4 353.9 25.8 356.0 25.2C358.1 24.6 360.1 23.5 361.0 23.1" fill="none" stroke="#f0781f" stroke-width="1.6" stroke-linecap="round"/>
<circle cx="447.4" cy="24.2" r="2.6" fill="#8eb3e3" stroke="#2c7fd9" stroke-width="1.2"/>
<text x="369.2" y="28.0" font-size="11.50" font-weight="bold" font-style="italic" fill="#111" text-anchor="start" textLength="53.0" lengthAdjust="spacingAndGlyphs" stroke="#111" stroke-width="0.60" stroke-linejoin="round">PEN chain</text>
<text x="456.6" y="28.0" font-size="11.50" font-weight="bold" font-style="italic" fill="#111" text-anchor="start" textLength="54.7" lengthAdjust="spacingAndGlyphs" stroke="#111" stroke-width="0.60" stroke-linejoin="round">PANI-<tspan font-style="italic">f</tspan>-BT</text>
<text x="142.7" y="35.5" font-size="12.00" font-weight="bold" font-style="italic" fill="#111" text-anchor="start" textLength="67.3" lengthAdjust="spacingAndGlyphs" stroke="#111" stroke-width="0.60" stroke-linejoin="round">hot-stretching</text>
<text x="241.7" y="46.7" font-size="12.00" font-weight="bold" font-style="italic" fill="#111" text-anchor="start" textLength="20.7" lengthAdjust="spacingAndGlyphs" stroke="#111" stroke-width="0.60" stroke-linejoin="round">50%</text>
<text x="324.2" y="58.0" font-size="12.00" font-weight="bold" font-style="italic" fill="#111" text-anchor="start" textLength="101.8" lengthAdjust="spacingAndGlyphs" stroke="#111" stroke-width="0.60" stroke-linejoin="round">futher hot-stretching</text>
<text x="457.5" y="69.0" font-size="12.00" font-weight="bold" font-style="italic" fill="#111" text-anchor="start" textLength="25.5" lengthAdjust="spacingAndGlyphs" stroke="#111" stroke-width="0.60" stroke-linejoin="round">100%</text>
<text x="17.3" y="23.0" font-size="15.60" font-weight="bold" font-style="normal" fill="#111" text-anchor="start" stroke="#111" stroke-width="0.45" stroke-linejoin="round">a</text>
<text x="10.6" y="125.3" font-size="15.20" font-weight="bold" font-style="normal" fill="#111" text-anchor="start" stroke="#111" stroke-width="0.45" stroke-linejoin="round">b</text>
<text x="182.8" y="124.0" font-size="15.20" font-weight="bold" font-style="normal" fill="#111" text-anchor="start" stroke="#111" stroke-width="0.45" stroke-linejoin="round">c</text>
<text x="357.6" y="127.0" font-size="15.20" font-weight="bold" font-style="normal" fill="#111" text-anchor="start" stroke="#111" stroke-width="0.45" stroke-linejoin="round">d</text>
<rect x="38.7" y="118.5" width="129.9" height="104.5" fill="#fff" stroke="#2b2b2b" stroke-width="0.9"/>
<path d="M38.7 118.5h-1.9M38.7 150.7h-1.9M38.7 182.8h-1.9M38.7 215.0h-1.9" stroke="#2b2b2b" stroke-width="0.8"/>
<path d="M38.7 134.6h-1.0M38.7 166.7h-1.0M38.7 198.9h-1.0" stroke="#2b2b2b" stroke-width="0.8"/>
<path d="M54.2 223.0v1.9M69.7 223.0v1.9M85.3 223.0v1.9M100.8 223.0v1.9M116.4 223.0v1.9M131.9 223.0v1.9M147.4 223.0v1.9M163.0 223.0v1.9" stroke="#2b2b2b" stroke-width="0.8"/>
<path d="M46.4 223.0v1.0M61.9 223.0v1.0M77.5 223.0v1.0M93.0 223.0v1.0M108.6 223.0v1.0M124.1 223.0v1.0M139.7 223.0v1.0M155.2 223.0v1.0" stroke="#2b2b2b" stroke-width="0.8"/>
<text x="35.2" y="120.4" font-size="5.50" font-weight="bold" font-style="normal" fill="#111" text-anchor="end" stroke="#111" stroke-width="0.30" stroke-linejoin="round">10</text>
<text x="35.2" y="152.6" font-size="5.50" font-weight="bold" font-style="normal" fill="#111" text-anchor="end" stroke="#111" stroke-width="0.30" stroke-linejoin="round">8</text>
<text x="35.2" y="184.7" font-size="5.50" font-weight="bold" font-style="normal" fill="#111" text-anchor="end" stroke="#111" stroke-width="0.30" stroke-linejoin="round">6</text>
<text x="35.2" y="216.9" font-size="5.50" font-weight="bold" font-style="normal" fill="#111" text-anchor="end" stroke="#111" stroke-width="0.30" stroke-linejoin="round">4</text>
<text x="54.2" y="230.9" font-size="5.50" font-weight="bold" font-style="normal" fill="#111" text-anchor="middle" stroke="#111" stroke-width="0.30" stroke-linejoin="round">400</text>
<text x="69.7" y="230.9" font-size="5.50" font-weight="bold" font-style="normal" fill="#111" text-anchor="middle" stroke="#111" stroke-width="0.30" stroke-linejoin="round">800</text>
<text x="85.3" y="230.9" font-size="5.50" font-weight="bold" font-style="normal" fill="#111" text-anchor="middle" stroke="#111" stroke-width="0.30" stroke-linejoin="round">2k</text>
<text x="100.8" y="230.9" font-size="5.50" font-weight="bold" font-style="normal" fill="#111" text-anchor="middle" stroke="#111" stroke-width="0.30" stroke-linejoin="round">6k</text>
<text x="116.4" y="230.9" font-size="5.50" font-weight="bold" font-style="normal" fill="#111" text-anchor="middle" stroke="#111" stroke-width="0.30" stroke-linejoin="round">10k</text>
<text x="131.9" y="230.9" font-size="5.50" font-weight="bold" font-style="normal" fill="#111" text-anchor="middle" stroke="#111" stroke-width="0.30" stroke-linejoin="round">40k</text>
<text x="147.4" y="230.9" font-size="5.50" font-weight="bold" font-style="normal" fill="#111" text-anchor="middle" stroke="#111" stroke-width="0.30" stroke-linejoin="round">80k</text>
<text x="163.0" y="230.9" font-size="5.50" font-weight="bold" font-style="normal" fill="#111" text-anchor="middle" stroke="#111" stroke-width="0.30" stroke-linejoin="round">200k</text>
<polyline points="46.4,162.0 54.2,162.5 61.9,162.9 69.7,163.6 77.5,164.1 85.3,164.3 93.0,164.8 100.8,165.7 108.6,165.9 116.4,166.4 124.1,167.3 131.9,167.6 139.7,168.2 147.4,168.6 155.2,169.2 163.0,169.6" fill="none" stroke="#c18cf0" stroke-width="0.80"/>
<circle cx="46.40" cy="162.00" r="1.26" fill="#a557e6"/><circle cx="54.17" cy="162.53" r="1.26" fill="#a557e6"/><circle cx="61.95" cy="162.95" r="1.26" fill="#a557e6"/><circle cx="69.72" cy="163.57" r="1.26" fill="#a557e6"/><circle cx="77.49" cy="164.09" r="1.26" fill="#a557e6"/><circle cx="85.26" cy="164.32" r="1.26" fill="#a557e6"/><circle cx="93.04" cy="164.80" r="1.26" fill="#a557e6"/><circle cx="100.81" cy="165.72" r="1.26" fill="#a557e6"/><circle cx="108.58" cy="165.93" r="1.26" fill="#a557e6"/><circle cx="116.36" cy="166.43" r="1.26" fill="#a557e6"/><circle cx="124.13" cy="167.31" r="1.26" fill="#a557e6"/><circle cx="131.90" cy="167.56" r="1.26" fill="#a557e6"/><circle cx="139.68" cy="168.25" r="1.26" fill="#a557e6"/><circle cx="147.45" cy="168.57" r="1.26" fill="#a557e6"/><circle cx="155.22" cy="169.16" r="1.26" fill="#a557e6"/><circle cx="163.00" cy="169.60" r="1.26" fill="#a557e6"/>
<polyline points="46.4,169.6 54.2,170.2 61.9,170.4 69.7,170.9 77.5,171.3 85.3,171.4 93.0,172.1 100.8,172.4 108.6,172.7 116.4,173.0 124.1,173.8 131.9,174.0 139.7,174.5 147.4,175.0 155.2,175.3 163.0,175.6" fill="none" stroke="#5fc48e" stroke-width="0.80"/>
<path d="M46.40 171.16L47.90 168.52L44.90 168.52Z" fill="#1fa35c"/><path d="M54.17 171.74L55.67 169.10L52.67 169.10Z" fill="#1fa35c"/><path d="M61.95 171.97L63.45 169.33L60.45 169.33Z" fill="#1fa35c"/><path d="M69.72 172.48L71.22 169.84L68.22 169.84Z" fill="#1fa35c"/><path d="M77.49 172.85L78.99 170.21L75.99 170.21Z" fill="#1fa35c"/><path d="M85.26 172.94L86.76 170.30L83.76 170.30Z" fill="#1fa35c"/><path d="M93.04 173.69L94.54 171.05L91.54 171.05Z" fill="#1fa35c"/><path d="M100.81 174.01L102.31 171.37L99.31 171.37Z" fill="#1fa35c"/><path d="M108.58 174.26L110.08 171.62L107.08 171.62Z" fill="#1fa35c"/><path d="M116.36 174.53L117.86 171.89L114.86 171.89Z" fill="#1fa35c"/><path d="M124.13 175.34L125.63 172.70L122.63 172.70Z" fill="#1fa35c"/><path d="M131.90 175.55L133.40 172.91L130.40 172.91Z" fill="#1fa35c"/><path d="M139.68 176.07L141.18 173.43L138.18 173.43Z" fill="#1fa35c"/><path d="M147.45 176.55L148.95 173.91L145.95 173.91Z" fill="#1fa35c"/><path d="M155.22 176.87L156.72 174.23L153.72 174.23Z" fill="#1fa35c"/><path d="M163.00 177.16L164.50 174.52L161.50 174.52Z" fill="#1fa35c"/>
<polyline points="46.4,196.4 54.2,196.9 61.9,197.1 69.7,197.7 77.5,198.0 85.3,198.0 93.0,198.4 100.8,198.8 108.6,199.5 116.4,199.6 124.1,200.1 131.9,200.3 139.7,200.7 147.4,201.0 155.2,201.4 163.0,201.8" fill="none" stroke="#4d8cec" stroke-width="0.80"/>
<path d="M46.40 194.84L47.90 197.48L44.90 197.48Z" fill="#1c6ae4"/><path d="M54.17 195.35L55.67 197.99L52.67 197.99Z" fill="#1c6ae4"/><path d="M61.95 195.53L63.45 198.17L60.45 198.17Z" fill="#1c6ae4"/><path d="M69.72 196.14L71.22 198.78L68.22 198.78Z" fill="#1c6ae4"/><path d="M77.49 196.47L78.99 199.11L75.99 199.11Z" fill="#1c6ae4"/><path d="M85.26 196.44L86.76 199.08L83.76 199.08Z" fill="#1c6ae4"/><path d="M93.04 196.82L94.54 199.46L91.54 199.46Z" fill="#1c6ae4"/><path d="M100.81 197.22L102.31 199.86L99.31 199.86Z" fill="#1c6ae4"/><path d="M108.58 197.95L110.08 200.59L107.08 200.59Z" fill="#1c6ae4"/><path d="M116.36 198.05L117.86 200.69L114.86 200.69Z" fill="#1c6ae4"/><path d="M124.13 198.50L125.63 201.14L122.63 201.14Z" fill="#1c6ae4"/><path d="M131.90 198.70L133.40 201.34L130.40 201.34Z" fill="#1c6ae4"/><path d="M139.68 199.16L141.18 201.80L138.18 201.80Z" fill="#1c6ae4"/><path d="M147.45 199.46L148.95 202.10L145.95 202.10Z" fill="#1c6ae4"/><path d="M155.22 199.81L156.72 202.45L153.72 202.45Z" fill="#1c6ae4"/><path d="M163.00 200.24L164.50 202.88L161.50 202.88Z" fill="#1c6ae4"/>
<polyline points="46.4,208.4 54.2,208.9 61.9,209.2 69.7,209.7 77.5,210.0 85.3,210.4 93.0,210.6 100.8,210.7 108.6,211.4 116.4,211.8 124.1,212.1 131.9,212.2 139.7,212.7 147.4,212.8 155.2,212.0 163.0,213.6" fill="none" stroke="#f66" stroke-width="0.80"/>
<circle cx="46.40" cy="208.40" r="1.26" fill="#f01e1e"/><circle cx="54.17" cy="208.95" r="1.26" fill="#f01e1e"/><circle cx="61.95" cy="209.18" r="1.26" fill="#f01e1e"/><circle cx="69.72" cy="209.65" r="1.26" fill="#f01e1e"/><circle cx="77.49" cy="209.96" r="1.26" fill="#f01e1e"/><circle cx="85.26" cy="210.38" r="1.26" fill="#f01e1e"/><circle cx="93.04" cy="210.57" r="1.26" fill="#f01e1e"/><circle cx="100.81" cy="210.66" r="1.26" fill="#f01e1e"/><circle cx="108.58" cy="211.35" r="1.26" fill="#f01e1e"/><circle cx="116.36" cy="211.75" r="1.26" fill="#f01e1e"/><circle cx="124.13" cy="212.07" r="1.26" fill="#f01e1e"/><circle cx="131.90" cy="212.25" r="1.26" fill="#f01e1e"/><circle cx="139.68" cy="212.67" r="1.26" fill="#f01e1e"/><circle cx="147.45" cy="212.76" r="1.26" fill="#f01e1e"/><circle cx="155.22" cy="212.00" r="1.26" fill="#f01e1e"/><circle cx="163.00" cy="213.60" r="1.26" fill="#f01e1e"/>
<polyline points="46.4,213.6 54.2,213.6 61.9,214.2 69.7,214.5 77.5,214.3 85.3,214.9 93.0,214.9 100.8,215.0 108.6,215.3 116.4,215.8 124.1,216.1 131.9,215.9 139.7,216.4 147.4,216.3 155.2,216.9 163.0,217.0" fill="none" stroke="#777" stroke-width="0.80"/>
<rect x="45.30" y="212.50" width="2.20" height="2.20" fill="#3a3a3a"/><rect x="53.07" y="212.51" width="2.20" height="2.20" fill="#3a3a3a"/><rect x="60.85" y="213.13" width="2.20" height="2.20" fill="#3a3a3a"/><rect x="68.62" y="213.42" width="2.20" height="2.20" fill="#3a3a3a"/><rect x="76.39" y="213.20" width="2.20" height="2.20" fill="#3a3a3a"/><rect x="84.16" y="213.78" width="2.20" height="2.20" fill="#3a3a3a"/><rect x="91.94" y="213.82" width="2.20" height="2.20" fill="#3a3a3a"/><rect x="99.71" y="213.91" width="2.20" height="2.20" fill="#3a3a3a"/><rect x="107.48" y="214.21" width="2.20" height="2.20" fill="#3a3a3a"/><rect x="115.26" y="214.67" width="2.20" height="2.20" fill="#3a3a3a"/><rect x="123.03" y="214.95" width="2.20" height="2.20" fill="#3a3a3a"/><rect x="130.80" y="214.77" width="2.20" height="2.20" fill="#3a3a3a"/><rect x="138.58" y="215.28" width="2.20" height="2.20" fill="#3a3a3a"/><rect x="146.35" y="215.22" width="2.20" height="2.20" fill="#3a3a3a"/><rect x="154.12" y="215.78" width="2.20" height="2.20" fill="#3a3a3a"/><rect x="161.90" y="215.90" width="2.20" height="2.20" fill="#3a3a3a"/>
<path d="M133.6 125.7H147.2" stroke="#777" stroke-width="0.7"/>
<rect x="139.30" y="124.60" width="2.20" height="2.20" fill="#3a3a3a"/>
<text x="149.2" y="127.7" font-size="5.95" font-weight="bold" font-style="normal" fill="#111" text-anchor="start" stroke="#111" stroke-width="0.30" stroke-linejoin="round">0%</text>
<path d="M133.6 133.1H147.2" stroke="#f77" stroke-width="0.7"/>
<circle cx="140.40" cy="133.12" r="1.21" fill="#f01e1e"/>
<text x="149.2" y="135.1" font-size="5.95" font-weight="bold" font-style="normal" fill="#111" text-anchor="start" stroke="#111" stroke-width="0.30" stroke-linejoin="round">50%</text>
<path d="M133.6 140.5H147.2" stroke="#5a94ee" stroke-width="0.7"/>
<path d="M140.40 139.11L141.78 141.53L139.03 141.53Z" fill="#1c6ae4"/>
<text x="149.2" y="142.5" font-size="5.95" font-weight="bold" font-style="normal" fill="#111" text-anchor="start" stroke="#111" stroke-width="0.30" stroke-linejoin="round">100%</text>
<path d="M133.6 148.0H147.2" stroke="#6c9" stroke-width="0.7"/>
<path d="M140.40 149.39L141.78 146.97L139.03 146.97Z" fill="#1fa35c"/>
<text x="149.2" y="150.0" font-size="5.95" font-weight="bold" font-style="normal" fill="#111" text-anchor="start" stroke="#111" stroke-width="0.30" stroke-linejoin="round">150%</text>
<path d="M133.6 155.4H147.2" stroke="#c18cf0" stroke-width="0.7"/>
<circle cx="140.40" cy="155.38" r="1.21" fill="#a557e6"/>
<text x="149.2" y="157.4" font-size="5.95" font-weight="bold" font-style="normal" fill="#111" text-anchor="start" stroke="#111" stroke-width="0.30" stroke-linejoin="round">200%</text>
<text x="0.0" y="0.0" font-size="10.40" font-weight="bold" font-style="normal" fill="#111" text-anchor="middle" textLength="81.0" lengthAdjust="spacingAndGlyphs" transform="translate(25.9 173.6) rotate(-90)" stroke="#111" stroke-width="0.45" stroke-linejoin="round">Dielectric constant</text>
<text x="70.0" y="243.9" font-size="11.20" font-weight="bold" font-style="normal" fill="#111" text-anchor="start" textLength="68.0" lengthAdjust="spacingAndGlyphs" stroke="#111" stroke-width="0.45" stroke-linejoin="round">Frequency (Hz)</text>
<rect x="206.8" y="118.8" width="141.0" height="105.6" fill="#fff" stroke="#2b2b2b" stroke-width="0.9"/>
<path d="M206.8 224.4h-1.9M206.8 209.3h-1.9M206.8 194.2h-1.9M206.8 179.1h-1.9M206.8 164.1h-1.9M206.8 149.0h-1.9M206.8 133.9h-1.9M206.8 118.8h-1.9" stroke="#2b2b2b" stroke-width="0.8"/>
<path d="M206.8 216.9h-1.0M206.8 201.8h-1.0M206.8 186.7h-1.0M206.8 171.6h-1.0M206.8 156.5h-1.0M206.8 141.4h-1.0M206.8 126.3h-1.0" stroke="#2b2b2b" stroke-width="0.8"/>
<path d="M226.4 224.4v1.9M254.2 224.4v1.9M282.0 224.4v1.9M309.7 224.4v1.9M337.5 224.4v1.9" stroke="#2b2b2b" stroke-width="0.8"/>
<path d="M212.5 224.4v1.0M240.3 224.4v1.0M268.1 224.4v1.0M295.9 224.4v1.0M323.6 224.4v1.0" stroke="#2b2b2b" stroke-width="0.8"/>
<text x="204.0" y="226.3" font-size="5.50" font-weight="bold" font-style="normal" fill="#111" text-anchor="end" stroke="#111" stroke-width="0.30" stroke-linejoin="round">10</text>
<text x="204.0" y="211.2" font-size="5.50" font-weight="bold" font-style="normal" fill="#111" text-anchor="end" stroke="#111" stroke-width="0.30" stroke-linejoin="round">15</text>
<text x="204.0" y="196.1" font-size="5.50" font-weight="bold" font-style="normal" fill="#111" text-anchor="end" stroke="#111" stroke-width="0.30" stroke-linejoin="round">20</text>
<text x="204.0" y="181.0" font-size="5.50" font-weight="bold" font-style="normal" fill="#111" text-anchor="end" stroke="#111" stroke-width="0.30" stroke-linejoin="round">25</text>
<text x="204.0" y="166.0" font-size="5.50" font-weight="bold" font-style="normal" fill="#111" text-anchor="end" stroke="#111" stroke-width="0.30" stroke-linejoin="round">30</text>
<text x="204.0" y="150.9" font-size="5.50" font-weight="bold" font-style="normal" fill="#111" text-anchor="end" stroke="#111" stroke-width="0.30" stroke-linejoin="round">35</text>
<text x="204.0" y="135.8" font-size="5.50" font-weight="bold" font-style="normal" fill="#111" text-anchor="end" stroke="#111" stroke-width="0.30" stroke-linejoin="round">40</text>
<text x="204.0" y="120.7" font-size="5.50" font-weight="bold" font-style="normal" fill="#111" text-anchor="end" stroke="#111" stroke-width="0.30" stroke-linejoin="round">45</text>
<text x="226.4" y="232.6" font-size="5.50" font-weight="bold" font-style="normal" fill="#111" text-anchor="middle" stroke="#111" stroke-width="0.30" stroke-linejoin="round">50</text>
<text x="254.2" y="232.6" font-size="5.50" font-weight="bold" font-style="normal" fill="#111" text-anchor="middle" stroke="#111" stroke-width="0.30" stroke-linejoin="round">100</text>
<text x="282.0" y="232.6" font-size="5.50" font-weight="bold" font-style="normal" fill="#111" text-anchor="middle" stroke="#111" stroke-width="0.30" stroke-linejoin="round">150</text>
<text x="309.7" y="232.6" font-size="5.50" font-weight="bold" font-style="normal" fill="#111" text-anchor="middle" stroke="#111" stroke-width="0.30" stroke-linejoin="round">200</text>
<text x="337.5" y="232.6" font-size="5.50" font-weight="bold" font-style="normal" fill="#111" text-anchor="middle" stroke="#111" stroke-width="0.30" stroke-linejoin="round">250</text>
<polyline points="212.5,212.0 226.4,212.0 232.0,212.0 237.5,212.0 243.1,211.8 248.6,211.5 254.2,211.0 259.7,210.5 265.3,209.8 270.8,209.0 276.4,208.0 282.0,207.0 287.5,205.6 293.1,204.4 298.6,202.4 304.2,200.0 309.7,197.0 315.3,193.0 320.9,189.0 326.4,178.7 332.0,171.0 337.5,162.0" fill="none" stroke="#999" stroke-width="0.50"/>
<circle cx="212.51" cy="212.00" r="1.38" fill="#161616"/><circle cx="226.40" cy="212.00" r="1.38" fill="#161616"/><circle cx="231.96" cy="212.00" r="1.38" fill="#161616"/><circle cx="237.51" cy="212.00" r="1.38" fill="#161616"/><circle cx="243.07" cy="211.80" r="1.38" fill="#161616"/><circle cx="248.62" cy="211.50" r="1.38" fill="#161616"/><circle cx="254.18" cy="211.00" r="1.38" fill="#161616"/><circle cx="259.74" cy="210.50" r="1.38" fill="#161616"/><circle cx="265.29" cy="209.80" r="1.38" fill="#161616"/><circle cx="270.85" cy="209.00" r="1.38" fill="#161616"/><circle cx="276.40" cy="208.00" r="1.38" fill="#161616"/><circle cx="281.96" cy="207.00" r="1.38" fill="#161616"/><circle cx="287.52" cy="205.60" r="1.38" fill="#161616"/><circle cx="293.07" cy="204.40" r="1.38" fill="#161616"/><circle cx="298.63" cy="202.40" r="1.38" fill="#161616"/><circle cx="304.18" cy="200.00" r="1.38" fill="#161616"/><circle cx="309.74" cy="197.00" r="1.38" fill="#161616"/><circle cx="315.30" cy="193.00" r="1.38" fill="#161616"/><circle cx="320.85" cy="189.00" r="1.38" fill="#161616"/><circle cx="326.41" cy="178.70" r="1.38" fill="#161616"/><circle cx="331.96" cy="171.00" r="1.38" fill="#161616"/><circle cx="337.52" cy="162.00" r="1.38" fill="#161616"/>
<polyline points="212.5,206.4 226.4,206.4 232.0,206.3 237.5,206.2 243.1,206.1 248.6,206.0 254.2,205.8 259.7,205.6 265.3,205.3 270.8,205.0 276.4,204.4 282.0,203.6 287.5,203.0 293.1,201.6 298.6,200.0 304.2,198.6 309.7,196.0 315.3,192.5 320.9,188.0 326.4,183.5 332.0,175.0 337.5,167.5" fill="none" stroke="#f9a" stroke-width="0.50"/>
<circle cx="212.51" cy="206.40" r="1.38" fill="#f31515"/><circle cx="226.40" cy="206.40" r="1.38" fill="#f31515"/><circle cx="231.96" cy="206.30" r="1.38" fill="#f31515"/><circle cx="237.51" cy="206.20" r="1.38" fill="#f31515"/><circle cx="243.07" cy="206.10" r="1.38" fill="#f31515"/><circle cx="248.62" cy="206.00" r="1.38" fill="#f31515"/><circle cx="254.18" cy="205.80" r="1.38" fill="#f31515"/><circle cx="259.74" cy="205.60" r="1.38" fill="#f31515"/><circle cx="265.29" cy="205.30" r="1.38" fill="#f31515"/><circle cx="270.85" cy="205.00" r="1.38" fill="#f31515"/><circle cx="276.40" cy="204.40" r="1.38" fill="#f31515"/><circle cx="281.96" cy="203.60" r="1.38" fill="#f31515"/><circle cx="287.52" cy="203.00" r="1.38" fill="#f31515"/><circle cx="293.07" cy="201.60" r="1.38" fill="#f31515"/><circle cx="298.63" cy="200.00" r="1.38" fill="#f31515"/><circle cx="304.18" cy="198.60" r="1.38" fill="#f31515"/><circle cx="309.74" cy="196.00" r="1.38" fill="#f31515"/><circle cx="315.30" cy="192.50" r="1.38" fill="#f31515"/><circle cx="320.85" cy="188.00" r="1.38" fill="#f31515"/><circle cx="326.41" cy="183.50" r="1.38" fill="#f31515"/><circle cx="331.96" cy="175.00" r="1.38" fill="#f31515"/><circle cx="337.52" cy="167.50" r="1.38" fill="#f31515"/>
<polyline points="212.5,197.6 226.4,197.6 232.0,197.5 237.5,197.4 243.1,197.3 248.6,197.1 254.2,196.9 259.7,196.7 265.3,196.4 270.8,196.0 276.4,195.6 282.0,195.0 287.5,194.4 293.1,194.0 298.6,193.4 304.2,192.5 309.7,190.8 315.3,188.5 320.9,185.2 326.4,181.5 332.0,176.5 337.5,171.5" fill="none" stroke="#99f" stroke-width="0.50"/>
<circle cx="212.51" cy="197.60" r="1.38" fill="#1a1af0"/><circle cx="226.40" cy="197.60" r="1.38" fill="#1a1af0"/><circle cx="231.96" cy="197.50" r="1.38" fill="#1a1af0"/><circle cx="237.51" cy="197.40" r="1.38" fill="#1a1af0"/><circle cx="243.07" cy="197.30" r="1.38" fill="#1a1af0"/><circle cx="248.62" cy="197.10" r="1.38" fill="#1a1af0"/><circle cx="254.18" cy="196.90" r="1.38" fill="#1a1af0"/><circle cx="259.74" cy="196.70" r="1.38" fill="#1a1af0"/><circle cx="265.29" cy="196.40" r="1.38" fill="#1a1af0"/><circle cx="270.85" cy="196.00" r="1.38" fill="#1a1af0"/><circle cx="276.40" cy="195.60" r="1.38" fill="#1a1af0"/><circle cx="281.96" cy="195.00" r="1.38" fill="#1a1af0"/><circle cx="287.52" cy="194.40" r="1.38" fill="#1a1af0"/><circle cx="293.07" cy="194.00" r="1.38" fill="#1a1af0"/><circle cx="298.63" cy="193.40" r="1.38" fill="#1a1af0"/><circle cx="304.18" cy="192.50" r="1.38" fill="#1a1af0"/><circle cx="309.74" cy="190.80" r="1.38" fill="#1a1af0"/><circle cx="315.30" cy="188.50" r="1.38" fill="#1a1af0"/><circle cx="320.85" cy="185.20" r="1.38" fill="#1a1af0"/><circle cx="326.41" cy="181.50" r="1.38" fill="#1a1af0"/><circle cx="331.96" cy="176.50" r="1.38" fill="#1a1af0"/><circle cx="337.52" cy="171.50" r="1.38" fill="#1a1af0"/>
<path d="M317.5 190.5L330.4 207" stroke="#444" stroke-width="0.6"/>
<path d="M321 188L330.4 207" stroke="#f44" stroke-width="0.6"/>
<path d="M322.5 186L330.4 207" stroke="#44f" stroke-width="0.6"/>
<text x="331.4" y="213.2" font-size="6.40" font-weight="bold" font-style="normal" fill="#f02020" text-anchor="start" stroke="#f02020" stroke-width="0.30" stroke-linejoin="round"><tspan font-style="italic">T</tspan><tspan font-size="5" dy="2.4">g</tspan></text>
<text x="344.2" y="129.3" font-size="5.80" font-weight="bold" font-style="normal" fill="#111" text-anchor="end" textLength="19.6" lengthAdjust="spacingAndGlyphs" stroke="#111" stroke-width="0.30" stroke-linejoin="round">at 1kHz</text>
<path d="M213.6 127.4H225.2" stroke="#aaa" stroke-width="0.6"/>
<circle cx="219.40" cy="127.40" r="1.32" fill="#161616"/>
<text x="227.4" y="129.4" font-size="6.00" font-weight="bold" font-style="normal" fill="#161616" text-anchor="start" stroke="#161616" stroke-width="0.30" stroke-linejoin="round">0%</text>
<path d="M213.6 135.5H225.2" stroke="#fbb" stroke-width="0.6"/>
<circle cx="219.40" cy="135.50" r="1.32" fill="#f31515"/>
<text x="227.4" y="137.5" font-size="6.00" font-weight="bold" font-style="normal" fill="#f31515" text-anchor="start" stroke="#f31515" stroke-width="0.30" stroke-linejoin="round">50%</text>
<path d="M213.6 143.6H225.2" stroke="#aaf" stroke-width="0.6"/>
<circle cx="219.40" cy="143.60" r="1.32" fill="#1a1af0"/>
<text x="227.4" y="145.6" font-size="6.00" font-weight="bold" font-style="normal" fill="#1a1af0" text-anchor="start" stroke="#1a1af0" stroke-width="0.30" stroke-linejoin="round">100%</text>
<text x="0.0" y="0.0" font-size="10.40" font-weight="bold" font-style="normal" fill="#111" text-anchor="middle" textLength="81.0" lengthAdjust="spacingAndGlyphs" transform="translate(195.6 173.6) rotate(-90)" stroke="#111" stroke-width="0.45" stroke-linejoin="round">Dielectric constant</text>
<text x="242.4" y="244.3" font-size="11.20" font-weight="bold" font-style="normal" fill="#111" text-anchor="start" textLength="76.2" lengthAdjust="spacingAndGlyphs" stroke="#111" stroke-width="0.45" stroke-linejoin="round">Temperature (<tspan font-size="8" dy="-3">o</tspan><tspan dy="3">C)</tspan></text>
<rect x="393.8" y="120.5" width="129.5" height="104.5" fill="#fff" stroke="#2b2b2b" stroke-width="0.9"/>
<path d="M393.8 225.0h-1.9M393.8 198.9h-1.9M393.8 172.8h-1.9M393.8 146.6h-1.9M393.8 120.5h-1.9" stroke="#2b2b2b" stroke-width="0.8"/>
<path d="M393.8 211.9h-1.0M393.8 185.8h-1.0M393.8 159.7h-1.0M393.8 133.6h-1.0" stroke="#2b2b2b" stroke-width="0.8"/>
<path d="M396.6 225.0v1.9M428.0 225.0v1.9M459.3 225.0v1.9M490.6 225.0v1.9M522.0 225.0v1.9" stroke="#2b2b2b" stroke-width="0.8"/>
<path d="M406.0 225.0v1.2M411.6 225.0v1.2M415.5 225.0v1.2M418.5 225.0v1.2M421.0 225.0v1.2M423.1 225.0v1.2M424.9 225.0v1.2M426.5 225.0v1.2M437.4 225.0v1.2M443.0 225.0v1.2M446.9 225.0v1.2M449.9 225.0v1.2M452.4 225.0v1.2M454.5 225.0v1.2M456.3 225.0v1.2M457.9 225.0v1.2M468.7 225.0v1.2M474.3 225.0v1.2M478.2 225.0v1.2M481.2 225.0v1.2M483.7 225.0v1.2M485.8 225.0v1.2M487.6 225.0v1.2M489.2 225.0v1.2M500.0 225.0v1.2M505.6 225.0v1.2M509.5 225.0v1.2M512.5 225.0v1.2M515.0 225.0v1.2M517.1 225.0v1.2M518.9 225.0v1.2M520.5 225.0v1.2" stroke="#2b2b2b" stroke-width="0.5"/>
<text x="390.6" y="226.9" font-size="5.50" font-weight="bold" font-style="normal" fill="#111" text-anchor="end" stroke="#111" stroke-width="0.30" stroke-linejoin="round">4.0</text>
<text x="390.6" y="200.8" font-size="5.50" font-weight="bold" font-style="normal" fill="#111" text-anchor="end" stroke="#111" stroke-width="0.30" stroke-linejoin="round">4.5</text>
<text x="390.6" y="174.7" font-size="5.50" font-weight="bold" font-style="normal" fill="#111" text-anchor="end" stroke="#111" stroke-width="0.30" stroke-linejoin="round">5.0</text>
<text x="390.6" y="148.5" font-size="5.50" font-weight="bold" font-style="normal" fill="#111" text-anchor="end" stroke="#111" stroke-width="0.30" stroke-linejoin="round">5.5</text>
<text x="390.6" y="122.4" font-size="5.50" font-weight="bold" font-style="normal" fill="#111" text-anchor="end" stroke="#111" stroke-width="0.30" stroke-linejoin="round">6.0</text>
<text x="396.6" y="233.8" font-size="5.80" font-weight="bold" font-style="normal" fill="#111" text-anchor="middle" stroke="#111" stroke-width="0.30" stroke-linejoin="round">10<tspan font-size="4" dy="-2.3">2</tspan></text>
<text x="428.0" y="233.8" font-size="5.80" font-weight="bold" font-style="normal" fill="#111" text-anchor="middle" stroke="#111" stroke-width="0.30" stroke-linejoin="round">10<tspan font-size="4" dy="-2.3">3</tspan></text>
<text x="459.3" y="233.8" font-size="5.80" font-weight="bold" font-style="normal" fill="#111" text-anchor="middle" stroke="#111" stroke-width="0.30" stroke-linejoin="round">10<tspan font-size="4" dy="-2.3">4</tspan></text>
<text x="490.6" y="233.8" font-size="5.80" font-weight="bold" font-style="normal" fill="#111" text-anchor="middle" stroke="#111" stroke-width="0.30" stroke-linejoin="round">10<tspan font-size="4" dy="-2.3">5</tspan></text>
<text x="522.0" y="233.8" font-size="5.80" font-weight="bold" font-style="normal" fill="#111" text-anchor="middle" stroke="#111" stroke-width="0.30" stroke-linejoin="round">10<tspan font-size="4" dy="-2.3">6</tspan></text>
<polyline points="396.6,151.6 409.0,155.6 418.4,158.0 423.6,159.4 428.0,160.4 440.0,163.4 448.6,164.6 454.4,165.4 458.0,166.0 470.0,168.0 479.4,169.0 485.0,169.6 489.0,170.0 501.0,171.6 510.4,172.6 516.4,174.0 522.0,175.0" fill="none" stroke="#3a80ea" stroke-width="0.90"/>
<path d="M396.60 150.10L398.04 152.63L395.16 152.63Z" fill="#1c6ae4"/><path d="M409.00 154.10L410.44 156.63L407.56 156.63Z" fill="#1c6ae4"/><path d="M418.40 156.50L419.84 159.03L416.96 159.03Z" fill="#1c6ae4"/><path d="M423.60 157.91L425.04 160.44L422.16 160.44Z" fill="#1c6ae4"/><path d="M428.00 158.91L429.44 161.44L426.56 161.44Z" fill="#1c6ae4"/><path d="M440.00 161.91L441.44 164.44L438.56 164.44Z" fill="#1c6ae4"/><path d="M448.60 163.10L450.04 165.63L447.16 165.63Z" fill="#1c6ae4"/><path d="M454.40 163.91L455.84 166.44L452.96 166.44Z" fill="#1c6ae4"/><path d="M458.00 164.50L459.44 167.03L456.56 167.03Z" fill="#1c6ae4"/><path d="M470.00 166.50L471.44 169.03L468.56 169.03Z" fill="#1c6ae4"/><path d="M479.40 167.50L480.84 170.03L477.96 170.03Z" fill="#1c6ae4"/><path d="M485.00 168.10L486.44 170.63L483.56 170.63Z" fill="#1c6ae4"/><path d="M489.00 168.50L490.44 171.03L487.56 171.03Z" fill="#1c6ae4"/><path d="M501.00 170.10L502.44 172.63L499.56 172.63Z" fill="#1c6ae4"/><path d="M510.40 171.10L511.84 173.63L508.96 173.63Z" fill="#1c6ae4"/><path d="M516.40 172.50L517.84 175.03L514.96 175.03Z" fill="#1c6ae4"/><path d="M522.00 173.50L523.44 176.03L520.56 176.03Z" fill="#1c6ae4"/>
<polyline points="396.6,191.6 409.0,194.0 418.4,196.0 423.6,197.0 428.0,197.6 440.0,199.4 448.6,200.4 454.4,201.2 458.0,201.6 470.0,203.0 479.4,204.0 485.0,204.6 489.0,205.0 501.0,206.6 510.4,207.6 516.4,208.6 522.0,209.4" fill="none" stroke="#f44" stroke-width="0.90"/>
<circle cx="396.60" cy="191.60" r="1.26" fill="#f01e1e"/><circle cx="409.00" cy="194.00" r="1.26" fill="#f01e1e"/><circle cx="418.40" cy="196.00" r="1.26" fill="#f01e1e"/><circle cx="423.60" cy="197.00" r="1.26" fill="#f01e1e"/><circle cx="428.00" cy="197.60" r="1.26" fill="#f01e1e"/><circle cx="440.00" cy="199.40" r="1.26" fill="#f01e1e"/><circle cx="448.60" cy="200.40" r="1.26" fill="#f01e1e"/><circle cx="454.40" cy="201.20" r="1.26" fill="#f01e1e"/><circle cx="458.00" cy="201.60" r="1.26" fill="#f01e1e"/><circle cx="470.00" cy="203.00" r="1.26" fill="#f01e1e"/><circle cx="479.40" cy="204.00" r="1.26" fill="#f01e1e"/><circle cx="485.00" cy="204.60" r="1.26" fill="#f01e1e"/><circle cx="489.00" cy="205.00" r="1.26" fill="#f01e1e"/><circle cx="501.00" cy="206.60" r="1.26" fill="#f01e1e"/><circle cx="510.40" cy="207.60" r="1.26" fill="#f01e1e"/><circle cx="516.40" cy="208.60" r="1.26" fill="#f01e1e"/><circle cx="522.00" cy="209.40" r="1.26" fill="#f01e1e"/>
<polyline points="396.6,201.4 409.0,204.0 418.4,205.4 423.6,206.4 428.0,207.0 440.0,208.6 448.6,209.6 454.4,210.2 458.0,210.4 470.0,211.6 479.4,212.6 485.0,213.4 489.0,213.6 501.0,215.0 510.4,216.6 516.4,218.0 522.0,218.4" fill="none" stroke="#666" stroke-width="0.90"/>
<rect x="395.55" y="200.35" width="2.10" height="2.10" fill="#3a3a3a"/><rect x="407.95" y="202.95" width="2.10" height="2.10" fill="#3a3a3a"/><rect x="417.35" y="204.35" width="2.10" height="2.10" fill="#3a3a3a"/><rect x="422.55" y="205.35" width="2.10" height="2.10" fill="#3a3a3a"/><rect x="426.95" y="205.95" width="2.10" height="2.10" fill="#3a3a3a"/><rect x="438.95" y="207.55" width="2.10" height="2.10" fill="#3a3a3a"/><rect x="447.55" y="208.55" width="2.10" height="2.10" fill="#3a3a3a"/><rect x="453.35" y="209.15" width="2.10" height="2.10" fill="#3a3a3a"/><rect x="456.95" y="209.35" width="2.10" height="2.10" fill="#3a3a3a"/><rect x="468.95" y="210.55" width="2.10" height="2.10" fill="#3a3a3a"/><rect x="478.35" y="211.55" width="2.10" height="2.10" fill="#3a3a3a"/><rect x="483.95" y="212.35" width="2.10" height="2.10" fill="#3a3a3a"/><rect x="487.95" y="212.55" width="2.10" height="2.10" fill="#3a3a3a"/><rect x="499.95" y="213.95" width="2.10" height="2.10" fill="#3a3a3a"/><rect x="509.35" y="215.55" width="2.10" height="2.10" fill="#3a3a3a"/><rect x="515.35" y="216.95" width="2.10" height="2.10" fill="#3a3a3a"/><rect x="520.95" y="217.35" width="2.10" height="2.10" fill="#3a3a3a"/>
<path d="M488.6 126.0H500.2" stroke="#777" stroke-width="0.7"/>
<rect x="493.30" y="124.90" width="2.20" height="2.20" fill="#3a3a3a"/>
<text x="502.6" y="128.0" font-size="5.95" font-weight="bold" font-style="normal" fill="#111" text-anchor="start" stroke="#111" stroke-width="0.30" stroke-linejoin="round">0%</text>
<path d="M488.6 133.3H500.2" stroke="#f77" stroke-width="0.7"/>
<circle cx="494.40" cy="133.30" r="1.21" fill="#f01e1e"/>
<text x="502.6" y="135.3" font-size="5.95" font-weight="bold" font-style="normal" fill="#111" text-anchor="start" stroke="#111" stroke-width="0.30" stroke-linejoin="round">50%</text>
<path d="M488.6 140.6H500.2" stroke="#5a94ee" stroke-width="0.7"/>
<path d="M494.40 139.17L495.77 141.59L493.02 141.59Z" fill="#1c6ae4"/>
<text x="502.6" y="142.6" font-size="5.95" font-weight="bold" font-style="normal" fill="#111" text-anchor="start" stroke="#111" stroke-width="0.30" stroke-linejoin="round">100%</text>
<text x="0.0" y="0.0" font-size="10.40" font-weight="bold" font-style="normal" fill="#111" text-anchor="middle" textLength="81.0" lengthAdjust="spacingAndGlyphs" transform="translate(379.9 173.8) rotate(-90)" stroke="#111" stroke-width="0.45" stroke-linejoin="round">Dielectric constant</text>
<text x="423.8" y="243.9" font-size="11.20" font-weight="bold" font-style="normal" fill="#111" text-anchor="start" textLength="68.0" lengthAdjust="spacingAndGlyphs" stroke="#111" stroke-width="0.45" stroke-linejoin="round">Frequency (Hz)</text>
<path d="M7.9 3.8H547.0" stroke="#1fa8ea" stroke-width="1.6" stroke-dasharray="5.70 4.37"/>
<path d="M4.4 108.75L546.8 110.2" stroke="#1fa8ea" stroke-width="1.55" stroke-dasharray="5.5 4.575"/>
<path d="M9.0 252.1H547.0" stroke="#1fa8ea" stroke-width="1.6" stroke-dasharray="5.70 4.37"/>
<path d="M4.3 4.9V252.8" stroke="#1fa8ea" stroke-width="1.6" stroke-dasharray="5.50 4.55"/>
<path d="M546.8 8.7V252.8" stroke="#1fa8ea" stroke-width="1.6" stroke-dasharray="5.80 4.28"/>
</svg>
</body></html>
